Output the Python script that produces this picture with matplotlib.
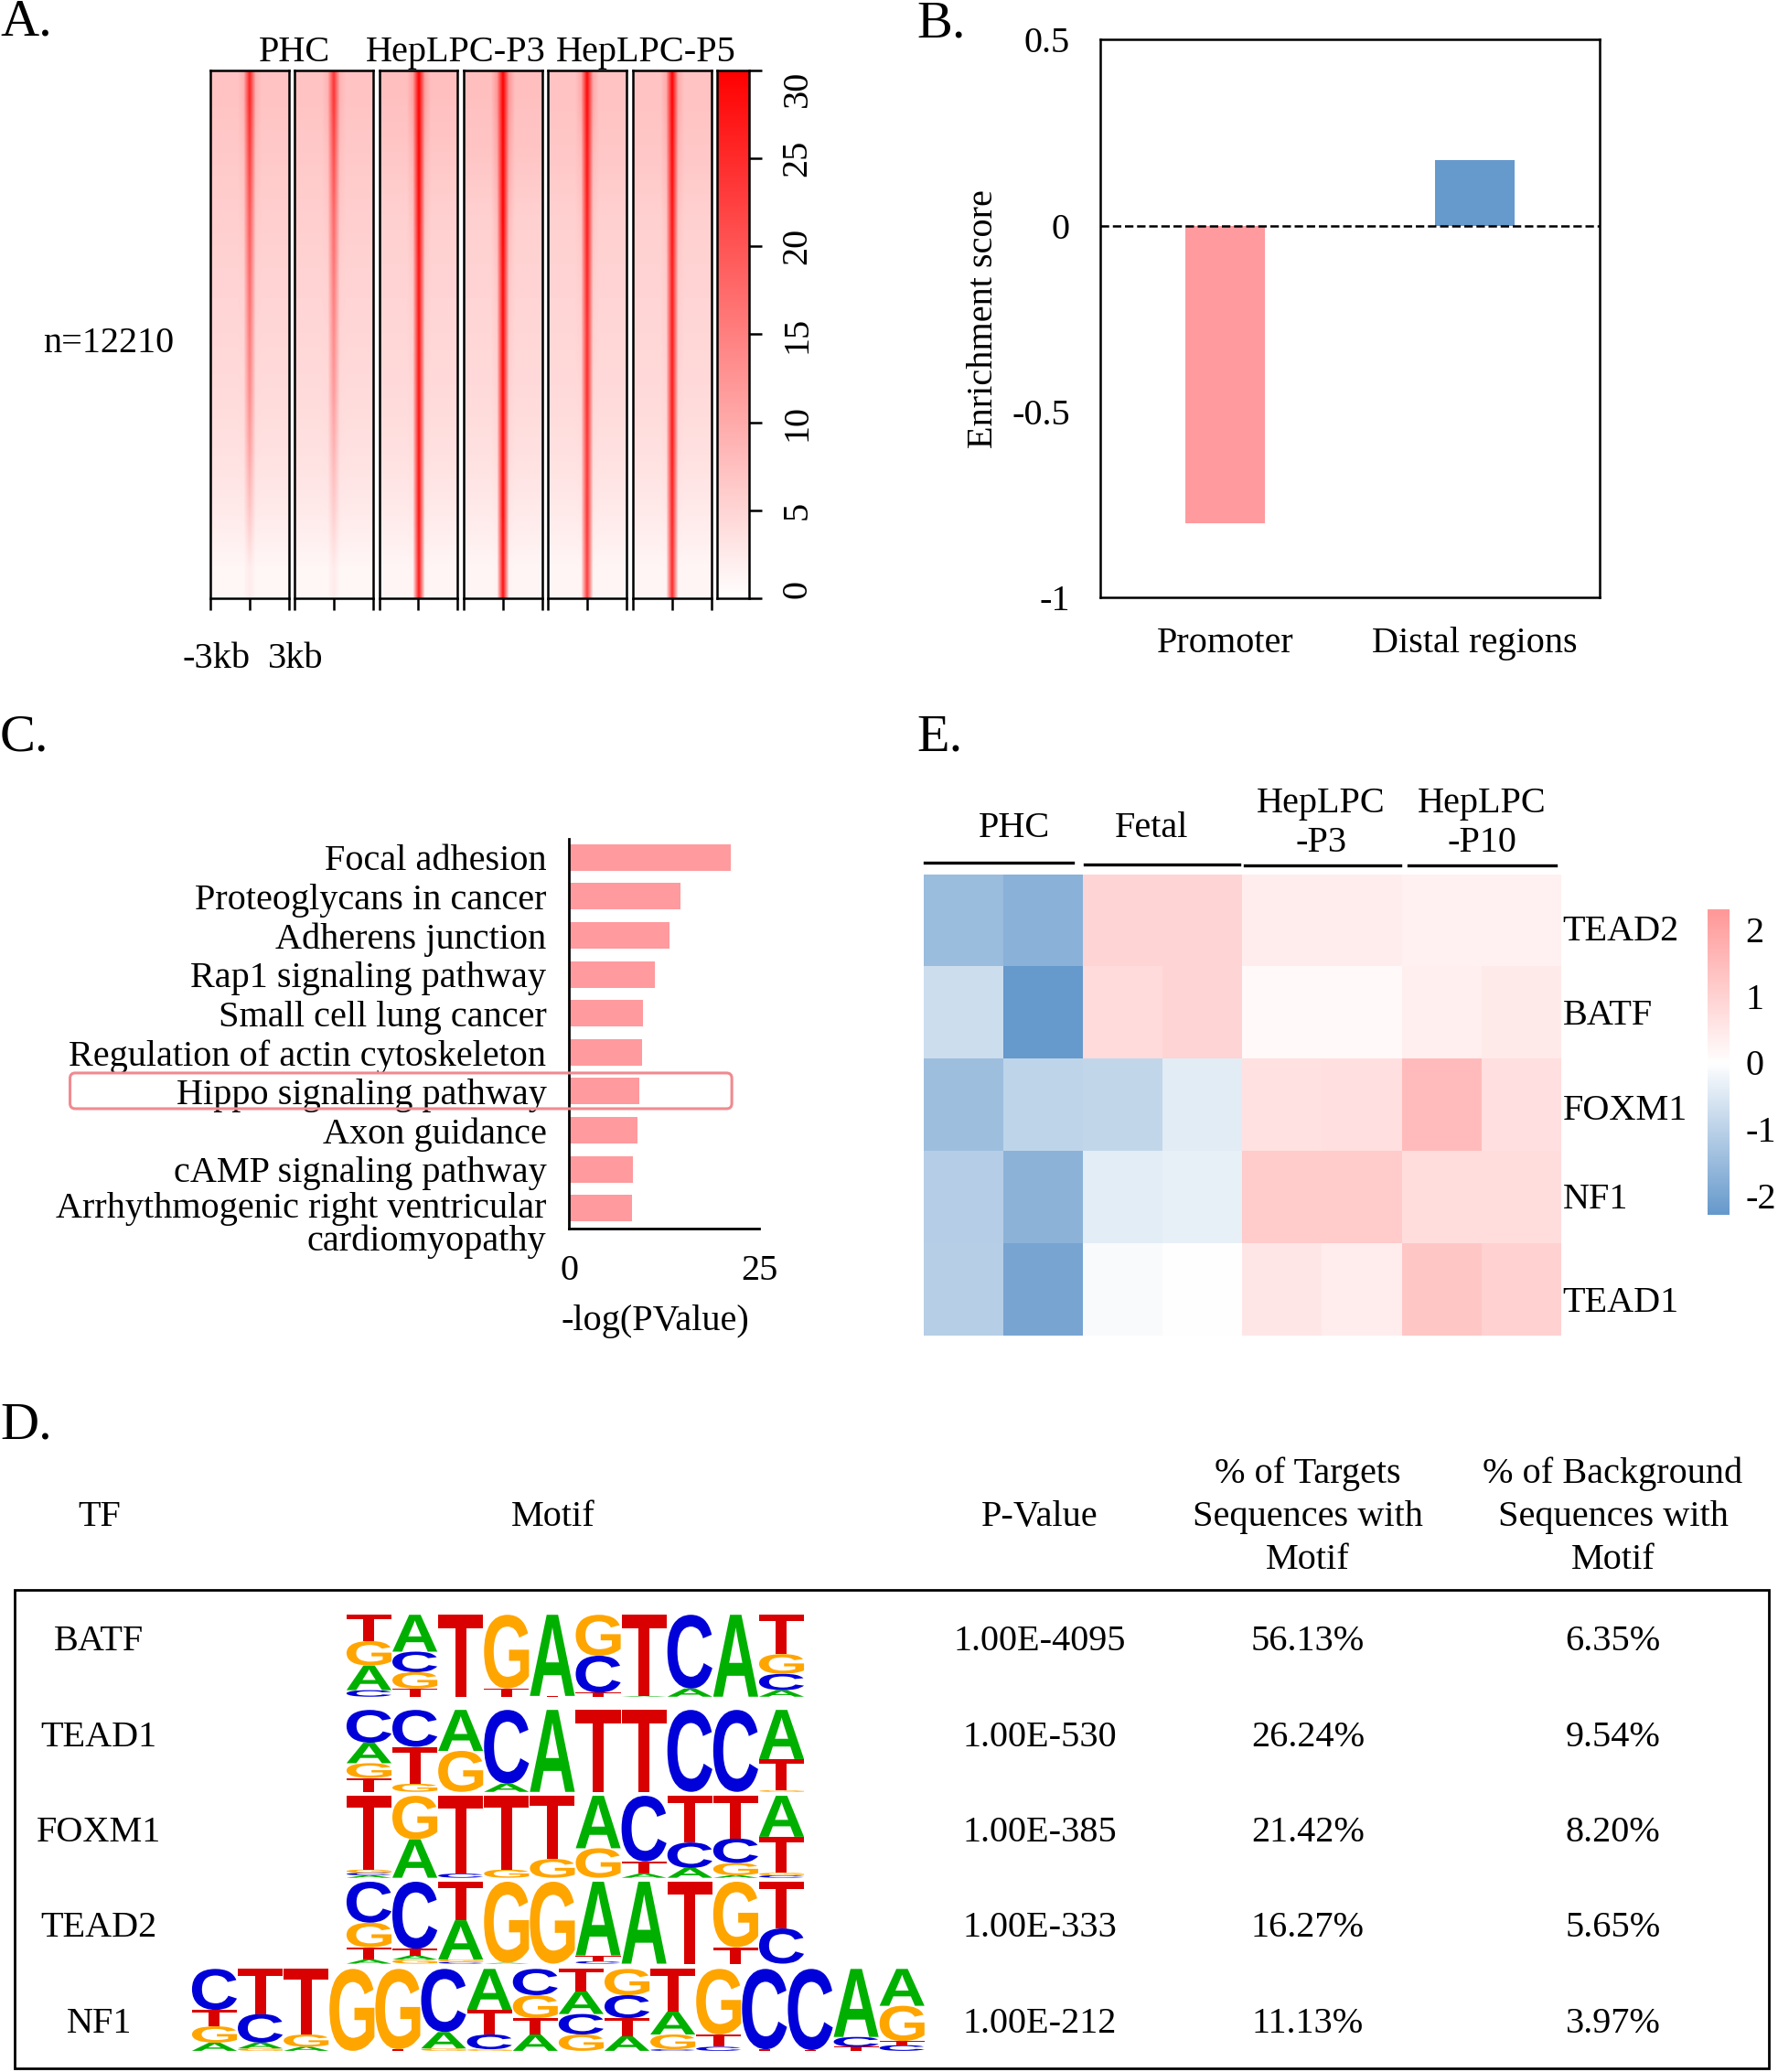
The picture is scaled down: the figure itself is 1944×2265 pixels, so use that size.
import numpy as np
import matplotlib
matplotlib.use("Agg")
import matplotlib.pyplot as plt
from matplotlib.colors import LinearSegmentedColormap
from matplotlib.font_manager import FontProperties
from matplotlib.patches import FancyBboxPatch, PathPatch, Rectangle
from matplotlib.textpath import TextPath
from matplotlib.transforms import Affine2D, ScaledTranslation

plt.rcParams["font.family"] = ["Liberation Serif", "DejaVu Serif"]
plt.rcParams["font.size"] = 29

# panel A: signal read top to bottom, in the units of the colour scale
a_flank = [
    [7, 6.4, 5.8, 5.2, 4.8, 4.3, 3.6, 2.6, 1.1],
    [7, 6.4, 5.8, 5.2, 4.8, 4.3, 3.6, 2.6, 1.1],
    [7.5, 6.6, 5.6, 5.2, 4.8, 4.4, 3.7, 2.6, 1.2],
    [7.5, 6.8, 5.6, 5.2, 4.8, 4.4, 3.7, 2.6, 1.2],
    [7, 6.6, 5.6, 5.2, 4.8, 4.4, 3.7, 2.6, 1.2],
    [7, 6.6, 5.6, 5.2, 4.8, 4.4, 3.7, 2.6, 1.2],
]
a_shoulder = [
    [9, 7.5, 6.5, 5.6, 5, 4.5, 3.8, 2.7, 1.1],
    [9, 7.5, 6.5, 5.6, 5, 4.5, 3.8, 2.7, 1.1],
    [11, 9, 7.5, 6.4, 5.6, 5, 4.2, 3, 1.4],
    [12, 10, 8, 6.8, 6, 5.2, 4.4, 3, 1.4],
    [10, 8, 6.8, 6, 5.4, 4.8, 4, 2.9, 1.3],
    [10, 8.5, 7, 6.2, 5.6, 5, 4.2, 2.9, 1.3],
]
a_peak = [
    [26, 23, 20, 18, 16, 14, 11, 7, 2.5],
    [24, 21, 18, 16, 14, 12, 9, 6, 2.5],
    [30, 30, 29, 28, 28, 28, 28, 28, 27],
    [30, 30, 30, 29, 29, 29, 29, 29, 28],
    [29, 28, 27, 26, 25, 25, 24, 24, 23],
    [30, 29, 28, 27, 27, 27, 27, 26, 25],
]
a_titles = ["PHC", "HepLPC-P3", "HepLPC-P5"]
a_scale_ticks = [0, 5, 10, 15, 20, 25, 30]

# panel B
b_regions = ["Promoter", "Distal regions"]
b_scores = [-0.8, 0.175]
b_ticks = [0.5, 0, -0.5, -1]
b_tick_labels = ["0.5", "0", "-0.5", "-1"]

# panel C
c_terms = [
    "Focal adhesion", "Proteoglycans in cancer", "Adherens junction",
    "Rap1 signaling pathway", "Small cell lung cancer",
    "Regulation of actin cytoskeleton", "Hippo signaling pathway",
    "Axon guidance", "cAMP signaling pathway",
    "Arrhythmogenic right ventricular\ncardiomyopathy",
]
c_values = [21.2, 14.6, 13.2, 11.3, 9.7, 9.5, 9.2, 8.9, 8.3, 8.2]

# panel D
d_factors = ["BATF", "TEAD1", "FOXM1", "TEAD2", "NF1"]
d_pvalues = ["1.00E-4095", "1.00E-530", "1.00E-385", "1.00E-333", "1.00E-212"]
d_targets = ["56.13%", "26.24%", "21.42%", "16.27%", "11.13%"]
d_background = ["6.35%", "9.54%", "8.20%", "5.65%", "3.97%"]

# letters stacked bottom to top, with their share of the column
logo_batf = [
    [("C", .08), ("A", .30), ("G", .30), ("T", .32)],
    [("T", .10), ("G", .20), ("C", .25), ("A", .45)],
    [("T", 1)],
    [("T", .10), ("G", .90)],
    [("T", .01), ("A", .99)],
    [("T", .05), ("C", .45), ("G", .50)],
    [("A", .01), ("T", .99)],
    [("A", .10), ("C", .90)],
    [("A", 1)],
    [("A", .08), ("C", .20), ("G", .24), ("T", .48)],
]
logo_tead1 = [
    [("T", .17), ("G", .18), ("A", .25), ("C", .40)],
    [("G", .10), ("T", .45), ("C", .45)],
    [("G", .50), ("A", .50)],
    [("A", .10), ("C", .90)],
    [("A", 1)],
    [("T", 1)],
    [("T", 1)],
    [("C", 1)],
    [("C", 1)],
    [("G", .02), ("T", .38), ("A", .60)],
]
logo_foxm1 = [
    [("A", .03), ("C", .03), ("G", .04), ("T", .90)],
    [("A", .47), ("G", .53)],
    [("C", .05), ("T", .95)],
    [("G", .10), ("T", .90)],
    [("G", .23), ("T", .77)],
    [("G", .36), ("A", .64)],
    [("A", .05), ("T", .15), ("C", .80)],
    [("A", .12), ("C", .31), ("T", .57)],
    [("A", .03), ("G", .15), ("C", .30), ("T", .52)],
    [("C", .03), ("G", .03), ("T", .44), ("A", .50)],
]
logo_tead2 = [
    [("A", .05), ("T", .15), ("G", .30), ("C", .50)],
    [("G", .05), ("A", .05), ("T", .08), ("C", .82)],
    [("C", .02), ("G", .03), ("A", .48), ("T", .47)],
    [("A", .01), ("G", .99)],
    [("G", 1)],
    [("C", .03), ("T", .07), ("A", .90)],
    [("A", 1)],
    [("T", 1)],
    [("T", .20), ("G", .80)],
    [("C", .43), ("T", .57)],
]
logo_nf1 = [
    [("A", .10), ("G", .20), ("T", .20), ("C", .50)],
    [("G", .03), ("A", .07), ("C", .35), ("T", .55)],
    [("A", .05), ("G", .15), ("T", .80)],
    [("G", 1)],
    [("T", .02), ("G", .98)],
    [("G", .03), ("A", .20), ("C", .77)],
    [("G", .02), ("C", .18), ("T", .30), ("A", .50)],
    [("A", .20), ("T", .20), ("G", .28), ("C", .32)],
    [("G", .20), ("C", .25), ("A", .28), ("T", .27)],
    [("A", .18), ("T", .22), ("C", .28), ("G", .32)],
    [("C", .02), ("G", .18), ("A", .28), ("T", .52)],
    [("C", .05), ("T", .15), ("G", .80)],
    [("T", .02), ("C", .98)],
    [("T", .01), ("C", .99)],
    [("T", .05), ("C", .12), ("A", .83)],
    [("C", .07), ("T", .05), ("G", .43), ("A", .45)],
]
d_logos = [logo_batf, logo_tead1, logo_foxm1, logo_tead2, logo_nf1]

# panel E
e_genes = ["TEAD2", "BATF", "FOXM1", "NF1", "TEAD1"]
e_tead2 = [-1.48, -1.73, 0.95, 0.95, 0.4, 0.4, 0.3, 0.3]
e_batf = [-0.76, -2.28, 0.8, 0.95, 0.12, 0.14, 0.35, 0.45]
e_foxm1 = [-1.43, -0.95, -0.9, -0.42, 0.65, 0.7, 1.5, 0.7]
e_nf1 = [-1.1, -1.7, -0.4, -0.35, 1.15, 1.15, 0.75, 0.75]
e_tead1 = [-1.07, -2.0, -0.1, 0.0, 0.55, 0.4, 1.25, 1.0]
e_ticks = [-2, -1, 0, 1, 2]

S = 1944 / 1346
W, H = 1346, 1568
RED = "#ff9a9e"
BLUE = "#6699cc"
LOGO_COLORS = {"A": "#00b000", "C": "#0000d8", "G": "#ffa500", "T": "#d80000"}
LOGO_FONT = FontProperties(family="Liberation Sans", weight="bold")


def add_axes(fig, x0, y0, x1, y1):
    # positions are given in the coordinates of the shrunk reference
    return fig.add_axes([x0 / W, 1 - y1 / H, (x1 - x0) / W, (y1 - y0) / H])


def draw_logo(ax, columns):
    ax.set_xlim(0, len(columns))
    ax.set_ylim(0, 1)
    ax.axis("off")
    for i, stack in enumerate(columns):
        bottom = 0
        for letter, share in stack:
            path = TextPath((0, 0), letter, size=1, prop=LOGO_FONT)
            box = path.get_extents()
            place = (Affine2D()
                     .translate(-box.x0, -box.y0)
                     .scale(0.98 / box.width, share / box.height)
                     .translate(i + 0.01, bottom))
            ax.add_patch(PathPatch(path, transform=place + ax.transData,
                                   fc=LOGO_COLORS[letter], lw=0))
            bottom += share


fig = plt.figure(figsize=(19.44, 22.65), dpi=100)

# A
signal_cmap = LinearSegmentedColormap.from_list("signal", ["white", "red"])
a_lefts = [159, 223, 287, 351, 415, 479]
for i, x0 in enumerate(a_lefts):
    ax = add_axes(fig, x0, 53, x0 + 59.5, 453)
    # 13 bins across the 6 kb window, the summit in the middle one
    grid = np.column_stack([a_flank[i]] * 5 + [a_shoulder[i], a_peak[i], a_shoulder[i]]
                           + [a_flank[i]] * 5)
    ax.imshow(grid, cmap=signal_cmap, vmin=0, vmax=30, aspect="auto",
              extent=(-3, 3, 1, 0), interpolation="bilinear")
    ax.set_xticks([-3, 0, 3], labels=[])
    ax.set_yticks([])
    ax.tick_params(length=9, width=1.8)
    for side in ax.spines.values():
        side.set_linewidth(1.8)

ax = add_axes(fig, 543, 53, 567, 453)
ax.imshow(np.linspace(30, 0, 256)[:, None], cmap=signal_cmap, aspect="auto",
          extent=(0, 1, 0, 30), vmin=0, vmax=30)
ax.set_xticks([])
ax.yaxis.tick_right()
ax.set_yticks(a_scale_ticks)
ax.tick_params(axis="y", length=10, width=1.8, pad=15)
for value, label in zip(a_scale_ticks, ax.get_yticklabels()):
    label.set_rotation(90)
    label.set_va("bottom" if value == 0 else "top" if value == 30 else "center")
for side in ax.spines.values():
    side.set_linewidth(1.8)

# B
ax = add_axes(fig, 833, 30, 1211, 452)
ax.bar([0, 1], b_scores, width=0.317, color=[RED, BLUE])
ax.axhline(0, color="black", ls="--", lw=1.8)
ax.set_xlim(-0.5, 1.5)
ax.set_ylim(-1, 0.5)
ax.set_xticks([0, 1], labels=b_regions)
ax.set_yticks(b_ticks, labels=b_tick_labels)
ax.tick_params(length=0)
ax.tick_params(axis="y", pad=24)
ax.tick_params(axis="x", pad=23)
ax.set_ylabel("Enrichment score")
ax.yaxis.set_label_coords(-0.2, 0.5)
for side in ax.spines.values():
    side.set_linewidth(1.8)

# C
ax = add_axes(fig, 431, 635, 575, 930)
ax.barh(range(len(c_values)), c_values, height=0.68, color=RED)
ax.set_xlim(0, 25)
ax.set_ylim(9.53, -0.47)
ax.set_yticks(range(len(c_terms)), labels=c_terms)
ax.set_xticks([0, 25])
ax.tick_params(length=0)
ax.tick_params(axis="y", pad=18)
ax.tick_params(axis="x", pad=20)
ax.set_xlabel("-log(PValue)", labelpad=13)
ax.xaxis.label.set_x(0.45)
ax.spines[["top", "right"]].set_visible(False)
ax.spines[["left", "bottom"]].set_linewidth(2)
last = ax.get_yticklabels()[-1]
last.set_multialignment("right")
last.set_linespacing(0.96)
last.set_transform(last.get_transform()
                   + ScaledTranslation(0, -10 * S / 100, fig.dpi_scale_trans))

# E
heat_cmap = LinearSegmentedColormap.from_list("heat", [BLUE, "white", "#ff9999"])
e_matrix = np.array([e_tead2, e_batf, e_foxm1, e_nf1, e_tead1])
ax = add_axes(fig, 699, 662, 1181, 1011)
ax.imshow(e_matrix, cmap=heat_cmap, vmin=-2.28, vmax=2.28, aspect="auto")
ax.axis("off")

ax = add_axes(fig, 1293, 688, 1309, 919)
ax.imshow(np.linspace(2.3, -2.28, 256)[:, None], cmap=heat_cmap, aspect="auto",
          extent=(0, 1, -2.28, 2.3), vmin=-2.28, vmax=2.28)
ax.set_xticks([])
ax.yaxis.tick_right()
ax.set_yticks(e_ticks, labels=[str(t) for t in e_ticks])
ax.tick_params(axis="y", length=0, pad=13)
for side in ax.spines.values():
    side.set_visible(False)

# D logos
logo_spots = [(262, 1222), (262, 1294), (262, 1359), (262, 1424), (145, 1490)]
for columns, (x0, y0) in zip(d_logos, logo_spots):
    draw_logo(add_axes(fig, x0, y0, x0 + 34.7 * len(columns), y0 + 62), columns)

# everything placed by hand goes on a full page overlay
page = fig.add_axes([0, 0, 1, 1], facecolor="none")
page.set_xlim(0, W)
page.set_ylim(H, 0)
page.axis("off")

for letter, x, y in [("A.", 0, 17), ("B.", 694, 18), ("C.", 0, 558),
                     ("E.", 694, 558), ("D.", 0, 1079)]:
    page.text(x, y, letter, fontsize=42, va="center", ha="left")

for title, x in zip(a_titles, [223, 345, 489]):
    page.text(x, 40, title, ha="center", va="center")
page.text(82, 260, "n=12210", ha="center", va="center")
page.text(164, 499, "-3kb", ha="center", va="center")
page.text(224, 499, "3kb", ha="center", va="center")

page.add_patch(FancyBboxPatch((53, 812), 501, 27, boxstyle="round,pad=0,rounding_size=4",
                              fc="none", ec="#f08a90", lw=2.2))

for x0, x1, y in [(700, 812, 653), (821, 938, 654), (942, 1060, 655), (1066, 1178, 655)]:
    page.plot([x0, x1], [y, y], color="black", lw=2.4)
for label, x, y in [("PHC", 768, 627), ("Fetal", 872, 627),
                    ("HepLPC\n-P3", 1000, 623), ("HepLPC\n-P10", 1122, 623)]:
    page.text(x, y, label, ha="center", va="center", linespacing=1.2)

for gene, y in zip(e_genes, [705, 769, 841, 908, 986]):
    page.text(1183, y, gene, ha="left", va="center")

header_y = 1148
page.text(75, header_y, "TF", ha="center", va="center")
page.text(419, header_y, "Motif", ha="center", va="center")
page.text(787, header_y, "P-Value", ha="center", va="center")
page.text(990, header_y, "% of Targets\nSequences with\nMotif", ha="center", va="center",
          linespacing=1.36)
page.text(1221, header_y, "% of Background\nSequences with\nMotif", ha="center", va="center",
          linespacing=1.36)
page.add_patch(Rectangle((11, 1203), 1328, 362, fc="none", ec="black", lw=2))
for i, y in enumerate([1242, 1315, 1387, 1459, 1532]):
    page.text(75, y, d_factors[i], ha="center", va="center")
    page.text(787, y, d_pvalues[i], ha="center", va="center")
    page.text(990, y, d_targets[i], ha="center", va="center")
    page.text(1221, y, d_background[i], ha="center", va="center")

fig.savefig("out.png", dpi=100)
